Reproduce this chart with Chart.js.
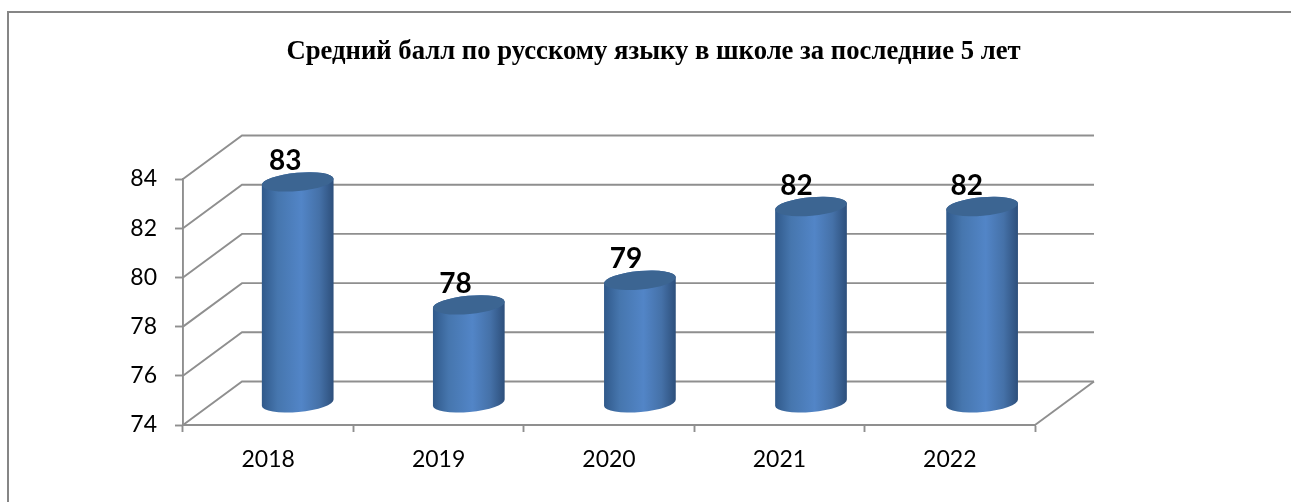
<!DOCTYPE html>
<html lang="ru">
<head>
<meta charset="utf-8">
<title>Средний балл</title>
<script src="https://cdn.jsdelivr.net/npm/chart.js@4"></script>
<style>
	html, body { margin: 0; padding: 0; background: #fff; overflow: hidden; }
	#frame { position: absolute; left: 7px; top: 11px; width: 1400px; height: 600px; border: 2px solid #868686; }
	#scoreChart { position: absolute; left: 0; top: 0; }
</style>
</head>
<body>
<div id="frame"></div>
<canvas id="scoreChart" width="1291" height="502"></canvas>
<script>
const years = ['2018', '2019', '2020', '2021', '2022'];
const scores = [83, 78, 79, 82, 82];
const axisMin = 74;
const axisMax = 84;
const axisStep = 2;
const chartTitle = 'Средний балл по русскому языку в школе за последние 5 лет';

// сдвиг задней стенки относительно передней плоскости
const depthX = 59;
const depthY = 43.5;
const lineColor = '#8f8f8f';
const lineWidth = 1.9;

// задняя стенка и боковые линии сетки
const gridBox = {
	id: 'gridBox',
	beforeDatasetsDraw(chart) {
		const { ctx, chartArea, scales } = chart;
		ctx.save();
		ctx.strokeStyle = lineColor;
		ctx.lineWidth = lineWidth;
		scales.y.ticks.forEach(tick => {
			const y = scales.y.getPixelForValue(tick.value);
			ctx.beginPath();
			ctx.moveTo(chartArea.left, y);
			ctx.lineTo(chartArea.left + depthX, y - depthY);
			ctx.lineTo(chartArea.right + depthX, y - depthY);
			ctx.stroke();
		});
		ctx.beginPath();
		ctx.moveTo(chartArea.right, chartArea.bottom);
		ctx.lineTo(chartArea.right + depthX, chartArea.bottom - depthY);
		ctx.stroke();
		ctx.restore();
	}
};

// цилиндры поверх прозрачных столбиков
const cylinders = {
	id: 'cylinders',
	afterDatasetsDraw(chart) {
		const { ctx } = chart;
		const meta = chart.getDatasetMeta(0);
		const tilt = -0.09;
		const ry = 9.2;
		ctx.save();
		meta.data.forEach((bar, i) => {
			const rx = bar.width / 2;
			const cx = bar.x + depthX / 2 + i * 0.7;
			const top = bar.y - depthY / 2;
			const bottom = bar.base - depthY / 2;

			const grad = ctx.createLinearGradient(cx - rx, 0, cx + rx, 0);
			grad.addColorStop(0, '#30598a');
			grad.addColorStop(0.22, '#4676ae');
			grad.addColorStop(0.55, '#5285c7');
			grad.addColorStop(0.8, '#4571a8');
			grad.addColorStop(1, '#2d4f7b');

			ctx.beginPath();
			ctx.ellipse(cx, bottom, rx, ry, tilt, Math.PI, 0, true);
			ctx.ellipse(cx, top, rx, ry, tilt, 0, Math.PI, true);
			ctx.closePath();
			ctx.fillStyle = grad;
			ctx.fill();

			ctx.beginPath();
			ctx.ellipse(cx, top, rx, ry, tilt, 0, Math.PI * 2);
			ctx.fillStyle = '#3c6592';
			ctx.fill();

			ctx.fillStyle = '#000';
			ctx.font = 'bold 28px Lato';
			ctx.textAlign = 'center';
			ctx.textBaseline = 'middle';
			ctx.fillText(scores[i], bar.x + 17, top - 21);
		});
		ctx.restore();
	}
};

new Chart(document.getElementById('scoreChart').getContext('2d'), {
	type: 'bar',
	data: {
		labels: years,
		datasets: [{
			data: scores,
			base: axisMin,
			backgroundColor: 'rgba(0,0,0,0)',
			categoryPercentage: 1,
			barPercentage: 0.4225
		}]
	},
	plugins: [gridBox, cylinders],
	options: {
		responsive: false,
		animation: false,
		devicePixelRatio: 1,
		layout: { padding: { left: 16 } },
		plugins: {
			legend: { display: false },
			tooltip: { enabled: false },
			title: {
				display: true,
				text: chartTitle,
				color: '#000',
				font: { family: '"Liberation Serif"', size: 26.7, weight: 'bold', lineHeight: 1.2 },
				padding: { top: 36, bottom: 111 }
			}
		},
		scales: {
			x: {
				afterFit: scale => { scale.height = 77; },
				border: { color: lineColor, width: lineWidth },
				grid: { drawOnChartArea: false, tickLength: 7, tickColor: lineColor, tickWidth: lineWidth },
				ticks: { color: '#000', padding: 13.5, maxRotation: 0, font: { family: 'Lato', size: 23 } }
			},
			y: {
				min: axisMin,
				max: axisMax,
				afterFit: scale => { scale.width = 167; },
				border: { color: lineColor, width: lineWidth },
				grid: { drawOnChartArea: false, tickLength: 8, tickColor: lineColor, tickWidth: lineWidth },
				ticks: { stepSize: axisStep, color: '#000', padding: 18, font: { family: 'Lato', size: 23 } }
			},
			// пустая ось справа: оставляет место под заднюю стенку
			spacer: {
				type: 'linear',
				position: 'right',
				afterFit: scale => { scale.width = 256; },
				border: { display: false },
				grid: { display: false },
				ticks: { display: false }
			}
		}
	}
});
</script>
</body>
</html>
